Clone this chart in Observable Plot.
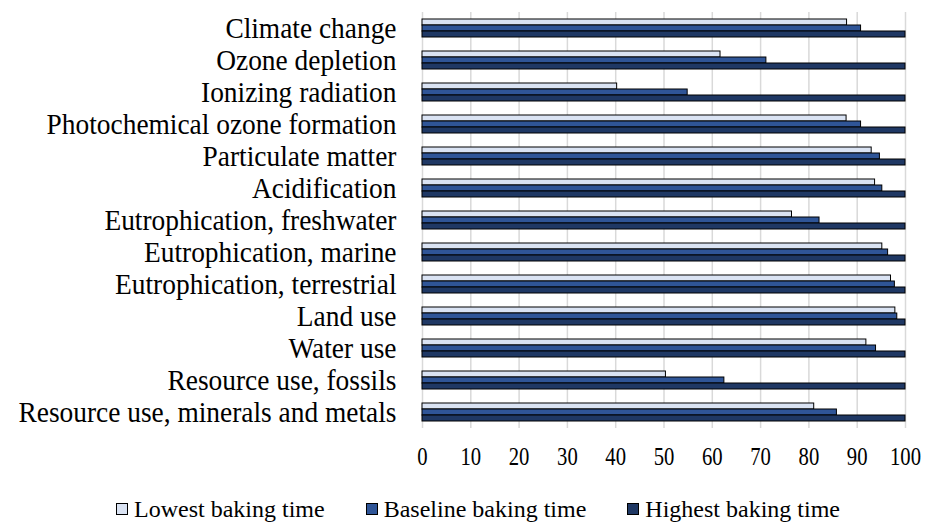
<!DOCTYPE html>
<html><head><meta charset="utf-8">
<script src="https://cdn.jsdelivr.net/npm/d3@7"></script>
<script src="https://cdn.jsdelivr.net/npm/@observablehq/plot@0.6"></script>
<style>
body{margin:0;background:#fff;color:#000;font-family:"Liberation Serif","Times New Roman",serif;}
#chart svg{display:block}
#legend{display:flex;justify-content:center;align-items:center;margin-top:15px;padding-left:30px;font-size:24px;line-height:28px;}
.item{display:flex;align-items:center;margin-right:41px}
.item:last-child{margin-right:0}
.sw{width:10px;height:10px;border:1px solid #000;margin-right:6px;box-sizing:content-box}
</style></head><body>
<div id="chart"></div>
<div id="legend"></div>
<script>
const categories = [
  "Climate change",
  "Ozone depletion",
  "Ionizing radiation",
  "Photochemical ozone formation",
  "Particulate matter",
  "Acidification",
  "Eutrophication, freshwater",
  "Eutrophication, marine",
  "Eutrophication, terrestrial",
  "Land use",
  "Water use",
  "Resource use, fossils",
  "Resource use, minerals and metals"
];
const seriesNames = ["Lowest baking time", "Baseline baking time", "Highest baking time"];
const lowest   = [87.9, 61.7, 40.3, 87.8, 93.0, 93.7, 76.5, 95.2, 97.0, 97.9, 91.9, 50.4, 81.1];
const baseline = [90.8, 71.2, 54.9, 90.8, 94.7, 95.2, 82.2, 96.4, 97.8, 98.3, 93.9, 62.5, 85.8];
const highest  = [100, 100, 100, 100, 100, 100, 100, 100, 100, 100, 100, 100, 100];
const seriesColors = ["#dae3f3", "#2f5597", "#1f3864"];
const xTicks = [0, 10, 20, 30, 40, 50, 60, 70, 80, 90, 100];

const seriesValues = [lowest, baseline, highest];
const data = categories.flatMap((c, i) =>
  seriesNames.map((s, j) => ({category: c, series: s, value: seriesValues[j][i]}))
);

const chart = Plot.plot({
  width: 926,
  height: 480,
  marginLeft: 422,
  marginRight: 21,
  marginTop: 12,
  marginBottom: 52,
  style: {fontFamily: "Liberation Serif", fontSize: "20.5px", color: "#000", background: "#fff"},
  x: {domain: [0, 100], label: null},
  y: {domain: seriesNames, axis: null, paddingInner: 0, paddingOuter: 0.79},
  fy: {domain: categories, padding: 0, label: null},
  color: {domain: seriesNames, range: seriesColors},
  marks: [
    Plot.ruleX(xTicks, {stroke: "#d9d9d9", strokeWidth: 1.5}),
    Plot.barX(data, {x: "value", y: "series", fy: "category", fill: "series", stroke: "#000", strokeWidth: 1}),
    Plot.axisX(xTicks, {tickSize: 0, tickPadding: 19, fontSize: 20.7, label: null}),
    Plot.axisFy({tickSize: 0, tickPadding: 26, fontSize: 27.4, label: null, anchor: "left"})
  ]
});
document.getElementById("chart").append(chart);

// keep each label's width, but match the reference's taller glyphs
function squeeze(texts, heightFont) {
  texts.forEach(t => {
    const w = t.getComputedTextLength();
    t.style.fontSize = heightFont + "px";
    t.setAttribute("textLength", w);
    t.setAttribute("lengthAdjust", "spacingAndGlyphs");
  });
}
function textsOf(size) {
  return [...chart.querySelectorAll(`g[font-size="${size}"] text`)];
}
squeeze(textsOf(20.7), 25);
squeeze(textsOf(27.4), 28.5);

const legend = document.getElementById("legend");
seriesNames.forEach((s, j) => {
  const item = document.createElement("div");
  item.className = "item";
  const sw = document.createElement("span");
  sw.className = "sw";
  sw.style.background = seriesColors[j];
  const t = document.createElement("span");
  t.textContent = s;
  item.append(sw, t);
  legend.append(item);
});
</script>
</body></html>
